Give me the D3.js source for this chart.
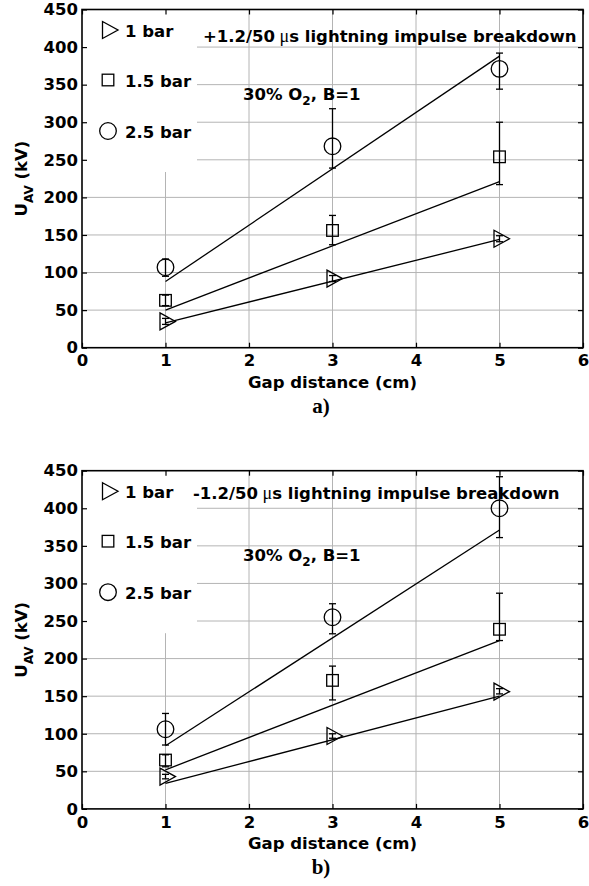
<!DOCTYPE html>
<html lang="en">
<head>
  <meta charset="UTF-8">
  <title>Lightning impulse breakdown vs gap distance</title>
  <script src="https://d3js.org/d3.v7.min.js"></script>
  <style>
    body { margin: 0; background: #fff; }
    svg { display: block; }
    .tick-label, .axis-title, .legend-text, .note {
      font-family: 'DejaVu Sans', sans-serif;
      font-weight: bold;
      font-size: 16.5px;
      fill: #000;
    }
    .panel-tag {
      font-family: 'Liberation Serif', 'Times New Roman', serif;
      font-weight: bold;
      font-size: 21px;
    }
  </style>
</head>
<body>
  <svg id="chart" width="589" height="886"></svg>

  <script>
    // gap distances (cm)
    const gaps = [1, 3, 5];
    const fitGaps = [1, 5];
    const xTicks = [0, 1, 2, 3, 4, 5, 6];
    const yTicks = [0, 50, 100, 150, 200, 250, 300, 350, 400, 450];
    const legendLabels = ["1 bar", "1.5 bar", "2.5 bar"];

    // panel a) positive impulse
    const a1bar = [35, 92, 145];
    const a1barLo = [31, 88, 141];
    const a1barHi = [39, 96, 149];
    const a15bar = [63, 156, 254];
    const a15barLo = [56, 137, 217];
    const a15barHi = [70, 176, 300];
    const a25bar = [107, 268, 371];
    const a25barLo = [95, 239, 344];
    const a25barHi = [118, 318, 392];
    const aFit1 = [33, 144];
    const aFit15 = [50, 221];
    const aFit25 = [88, 388];

    // panel b) negative impulse
    const b1bar = [43, 97, 156];
    const b1barLo = [40, 94, 153];
    const b1barHi = [46, 100, 160];
    const b15bar = [65, 171, 239];
    const b15barLo = [56, 145, 224];
    const b15barHi = [72, 190, 287];
    const b25bar = [106, 255, 400];
    const b25barLo = [85, 233, 361];
    const b25barHi = [127, 273, 442];
    const bFit1 = [34, 150];
    const bFit15 = [52, 224];
    const bFit25 = [84, 371];

    const svg = d3.select("#chart");

    const left = 82, right = 583, plotH = 338.2;
    const x = d3.scaleLinear().domain([0, 6]).range([left, right]);

    const markers = {
      tri: (g, cx, cy) => g.append("path")
        .attr("d", `M${cx - 5.5},${cy - 8.5}L${cx + 10},${cy}L${cx - 5.5},${cy + 8.5}Z`),
      sq: (g, cx, cy) => g.append("rect")
        .attr("x", cx - 5.8).attr("y", cy - 5.8).attr("width", 11.6).attr("height", 11.6),
      circ: (g, cx, cy) => g.append("circle").attr("cx", cx).attr("cy", cy).attr("r", 8.3)
    };

    function drawPanel(top, title, titleX, titleDy, series, tag, tagY) {
      const y = d3.scaleLinear().domain([0, 450]).range([top + plotH, top]);
      const g = svg.append("g");

      // grid
      g.append("g").selectAll("line").data(xTicks.slice(1, -1)).enter().append("line")
        .attr("x1", d => x(d)).attr("x2", d => x(d))
        .attr("y1", y(0)).attr("y2", y(450))
        .attr("stroke", "#b4b4b4").attr("stroke-width", 1);
      g.append("g").selectAll("line").data(yTicks.slice(1, -1)).enter().append("line")
        .attr("x1", x(0)).attr("x2", x(6))
        .attr("y1", d => y(d)).attr("y2", d => y(d))
        .attr("stroke", "#b4b4b4").attr("stroke-width", 1);

      // legend background hides the grid
      g.append("rect")
        .attr("x", left).attr("y", top).attr("width", 115).attr("height", 162.5)
        .attr("fill", "#fff");

      // axes with inner ticks on all sides
      const ax = g.append("g");
      ax.append("g").attr("transform", `translate(0,${y(0)})`)
        .call(d3.axisBottom(x).tickValues(xTicks).tickFormat(d3.format("d"))
          .tickSizeInner(-5).tickSizeOuter(0).tickPadding(7));
      ax.append("g").attr("transform", `translate(0,${y(450)})`)
        .call(d3.axisTop(x).tickValues(xTicks).tickSizeInner(-5).tickSizeOuter(0).tickFormat(""));
      ax.append("g").attr("transform", `translate(${left},0)`)
        .call(d3.axisLeft(y).tickValues(yTicks).tickSizeInner(-5).tickSizeOuter(0).tickPadding(4));
      ax.append("g").attr("transform", `translate(${right},0)`)
        .call(d3.axisRight(y).tickValues(yTicks).tickSizeInner(-5).tickSizeOuter(0).tickFormat(""));
      ax.selectAll(".domain").remove();
      ax.selectAll(".tick line").attr("stroke", "#000").attr("stroke-width", 1.2);
      ax.selectAll(".tick text").attr("class", "tick-label").attr("font-size", null)
        .attr("font-family", null);
      g.append("rect")
        .attr("x", left).attr("y", top).attr("width", right - left).attr("height", plotH)
        .attr("fill", "none").attr("stroke", "#000").attr("stroke-width", 1.6);

      // fit lines, error bars, markers
      series.forEach(s => {
        g.append("path")
          .datum(fitGaps.map((gx, i) => [gx, s.fit[i]]))
          .attr("d", d3.line().x(d => x(d[0])).y(d => y(d[1])))
          .attr("fill", "none").attr("stroke", "#000").attr("stroke-width", 1.3);

        gaps.forEach((gx, i) => {
          const cx = x(gx);
          const eb = g.append("g").attr("stroke", "#000").attr("stroke-width", 1.3);
          eb.append("line").attr("x1", cx).attr("x2", cx)
            .attr("y1", y(s.lo[i])).attr("y2", y(s.hi[i]));
          [s.lo[i], s.hi[i]].forEach(v => eb.append("line")
            .attr("x1", cx - 3.5).attr("x2", cx + 3.5)
            .attr("y1", y(v)).attr("y2", y(v)));
          markers[s.shape](g, cx, y(s.val[i]))
            .attr("fill", "none").attr("stroke", "#000").attr("stroke-width", 1.3);
        });
      });

      // legend
      const legY = [top + 20.5, top + 70.5, top + 121.5];
      series.forEach((s, i) => {
        markers[s.shape](g, 108, legY[i])
          .attr("fill", "none").attr("stroke", "#000").attr("stroke-width", 1.3);
        g.append("text").attr("class", "legend-text")
          .attr("x", 125).attr("y", legY[i] + 7)
          .text(legendLabels[i]);
      });

      // annotations
      const t = g.append("text").attr("class", "note").attr("x", titleX).attr("y", top + titleDy);
      t.append("tspan").text(title);
      t.append("tspan").attr("font-family", "'Liberation Serif', serif").attr("font-weight", "normal")
        .attr("font-size", "18px").text(" \u03bc");
      t.append("tspan").text("s lightning impulse breakdown");

      const o = g.append("text").attr("class", "note").attr("x", 243).attr("y", top + 90.5);
      o.append("tspan").text("30% O");
      o.append("tspan").attr("font-size", "12px").attr("dy", 5).text("2");
      o.append("tspan").attr("dy", -5).text(", B=1");

      g.append("text").attr("class", "axis-title")
        .attr("x", (left + right) / 2).attr("y", top + plotH + 40)
        .attr("text-anchor", "middle")
        .text("Gap distance (cm)");

      const yl = g.append("text").attr("class", "axis-title")
        .attr("transform", `translate(27,${top + plotH / 2}) rotate(-90)`)
        .attr("text-anchor", "middle");
      yl.append("tspan").text("U");
      yl.append("tspan").attr("font-size", "12px").attr("dy", 6).text("AV");
      yl.append("tspan").attr("dy", -6).text(" (kV)");

      g.append("text").attr("class", "panel-tag")
        .attr("x", 321).attr("y", tagY).attr("text-anchor", "middle")
        .text(tag);
    }

    drawPanel(9.5, "+1.2/50", 203, 32.5, [
      { shape: "tri", val: a1bar, lo: a1barLo, hi: a1barHi, fit: aFit1 },
      { shape: "sq", val: a15bar, lo: a15barLo, hi: a15barHi, fit: aFit15 },
      { shape: "circ", val: a25bar, lo: a25barLo, hi: a25barHi, fit: aFit25 }
    ], "a)", 413);

    drawPanel(470.7, "-1.2/50", 193, 28.5, [
      { shape: "tri", val: b1bar, lo: b1barLo, hi: b1barHi, fit: bFit1 },
      { shape: "sq", val: b15bar, lo: b15barLo, hi: b15barHi, fit: bFit15 },
      { shape: "circ", val: b25bar, lo: b25barLo, hi: b25barHi, fit: bFit25 }
    ], "b)", 874);
  </script>
</body>
</html>
